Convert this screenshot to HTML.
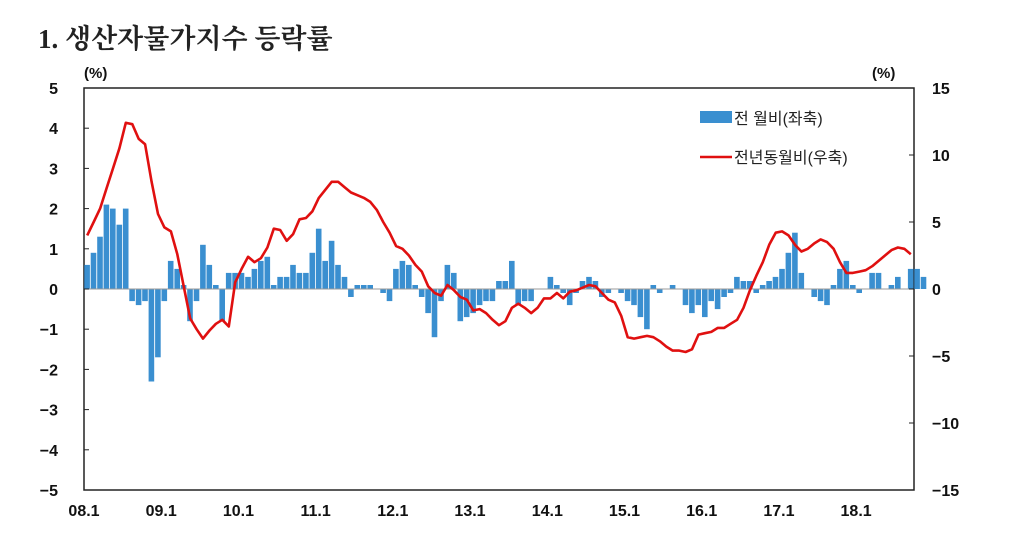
<!DOCTYPE html>
<html><head><meta charset="utf-8"><style>
body{margin:0;background:#fff;width:1024px;height:544px;overflow:hidden}
</style></head><body>
<svg id="c" width="1024" height="544" xmlns="http://www.w3.org/2000/svg" font-family="Liberation Sans, Noto Sans CJK KR, sans-serif">
<text x="38" y="48" font-size="27" font-family="Liberation Serif, Noto Serif CJK SC, serif" font-weight="bold" fill="#222">1. 생산자물가지수 등락률</text>
<text x="84" y="78" font-size="15" font-weight="bold" fill="#111">(%)</text>
<text x="872" y="78" font-size="15" font-weight="bold" fill="#111">(%)</text>
<g id="g"></g>
</svg>
<script>
var L=84,R=914,T=88,B=490,Z=289;
var bars=[.6,.9,1.3,2.1,2.0,1.6,2.0,-.3,-.4,-.3,-2.3,-1.7,
-.3,.7,.5,.1,-.8,-.3,1.1,.6,.1,-.8,.4,.4,
.4,.3,.5,.7,.8,.1,.3,.3,.6,.4,.4,.9,
1.5,.7,1.2,.6,.3,-.2,.1,.1,.1,0,-.1,-.3,
.5,.7,.6,.1,-.2,-.6,-1.2,-.3,.6,.4,-.8,-.7,
-.6,-.4,-.3,-.3,.2,.2,.7,-.4,-.3,-.3,0,0,
.3,.1,-.1,-.4,-.1,.2,.3,.2,-.2,-.1,0,-.1,
-.3,-.4,-.7,-1.0,.1,-.1,0,.1,0,-.4,-.6,-.4,-.7,-.3,-.5,-.2,
-.1,.3,.2,.2,-.1,.1,.2,.3,.5,.9,1.4,.4,
0,-.2,-.3,-.4,.1,.5,.7,.1,-.1,0,.4,.4,
0,.1,.3,0,.5,.5,.3];
var red=[4.0,5.0,6.0,7.5,9.0,10.5,12.4,12.3,11.2,10.8,8.0,5.6,
4.6,4.3,2.6,0.2,-2.2,-3.0,-3.7,-3.1,-2.6,-2.3,-2.8,0.5,
1.5,2.4,2.0,2.3,3.1,4.5,4.4,3.6,4.1,5.2,5.3,5.8,
6.8,7.4,8.0,8.0,7.6,7.2,7.0,6.8,6.5,5.9,5.0,4.2,
3.2,3.0,2.5,1.8,1.3,0.2,-0.3,-0.5,0.3,-0.1,-0.6,-0.8,
-1.6,-1.5,-1.8,-2.3,-2.7,-2.4,-1.4,-1.1,-1.4,-1.8,-1.4,-0.7,
-0.7,-0.3,-0.7,-0.2,-0.1,0.1,0.3,0.2,-0.3,-0.8,-1.0,-2.0,
-3.6,-3.7,-3.6,-3.5,-3.6,-3.9,-4.3,-4.6,-4.6,-4.7,-4.5,-3.4,
-3.3,-3.2,-2.9,-2.9,-2.6,-2.3,-1.4,-0.1,1.0,2.0,3.3,4.2,
4.3,4.0,3.3,2.8,3.0,3.4,3.7,3.5,3.0,2.0,1.2,1.2,
1.3,1.4,1.7,2.1,2.5,2.9,3.1,3.0,2.6];
var dx=(R-L)/129, s='';
s+='<rect x="'+L+'" y="'+T+'" width="'+(R-L)+'" height="'+(B-T)+'" fill="none" stroke="#222" stroke-width="1.5"/>';
for(var i=0;i<bars.length;i++){var v=bars[i],y=Z-v*40.2,x=L+i*dx+0.3;
s+='<rect x="'+x.toFixed(1)+'" y="'+Math.min(y,Z).toFixed(1)+'" width="'+(dx-0.8).toFixed(1)+'" height="'+Math.abs(v*40.2).toFixed(1)+'" fill="#3a8fd0"/>';}
s+='<line x1="'+L+'" x2="'+R+'" y1="'+Z+'" y2="'+Z+'" stroke="#999" stroke-width="1"/>';
var p=[];for(var i=0;i<red.length;i++)p.push((L+i*dx+dx/2).toFixed(1)+','+(Z-red[i]*13.4).toFixed(1));
s+='<polyline points="'+p.join(' ')+'" fill="none" stroke="#e01010" stroke-width="2.6" stroke-linejoin="round"/>';
for(var k=-5;k<=5;k++){var y=Z-k*40.2;
s+='<line x1="'+L+'" x2="'+(L+5)+'" y1="'+y+'" y2="'+y+'" stroke="#222"/>';
s+='<text x="'+(L-26)+'" y="'+(y+6)+'" font-size="16" font-weight="bold" text-anchor="end" fill="#111">'+(k<0?'\u2212'+(-k):k)+'</text>';}
for(var k=-15;k<=15;k+=5){var y=Z-k*13.4;
s+='<line x1="'+(R-5)+'" x2="'+R+'" y1="'+y+'" y2="'+y+'" stroke="#222"/>';
s+='<text x="'+(R+18)+'" y="'+(y+6)+'" font-size="16" font-weight="bold" fill="#111">'+(k<0?'\u2212'+(-k):k)+'</text>';}
var lab=['08.1','09.1','10.1','11.1','12.1','13.1','14.1','15.1','16.1','17.1','18.1'];
for(var j=0;j<11;j++){var x=L+j*12*dx;
s+='<text x="'+x.toFixed(1)+'" y="516" font-size="16" font-weight="bold" text-anchor="middle" fill="#111">'+lab[j]+'</text>';}
s+='<rect x="700" y="111" width="32" height="12" fill="#3a8fd0"/><text x="734" y="124" font-size="16" fill="#222">전 월비(좌축)</text>';
s+='<line x1="700" x2="732" y1="157" y2="157" stroke="#e01010" stroke-width="2.6"/><text x="734" y="163" font-size="16" fill="#222">전년동월비(우축)</text>';
document.getElementById('g').innerHTML=s;
</script>
</body></html>
